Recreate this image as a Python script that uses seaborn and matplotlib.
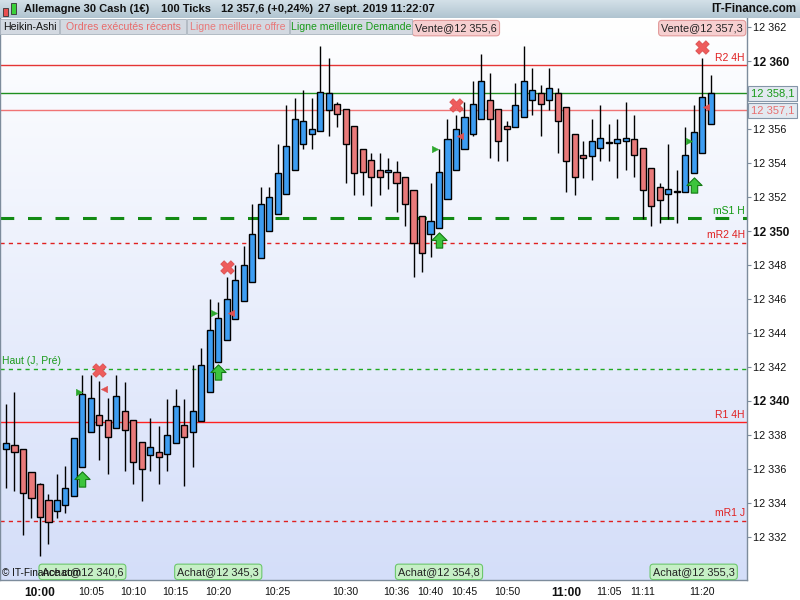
import numpy as np
import pandas as pd
import seaborn as sns
import matplotlib.pyplot as plt
import matplotlib.transforms as mtransforms

from matplotlib.colors import LinearSegmentedColormap
from matplotlib.patches import Rectangle
from matplotlib.path import Path

# ============================================================ DATA ============================================================

# Heikin-Ashi candles (100 ticks each)
opens  = [12337.2, 12337.4, 12337.2, 12335.8, 12335.1, 12334.2, 12333.5, 12333.9, 12334.4, 12336.1,
          12338.2, 12339.2, 12338.9, 12338.4, 12339.4, 12338.9, 12337.6, 12336.8, 12337.0, 12336.9,
          12337.5, 12338.6, 12338.2, 12338.8, 12340.5, 12342.3, 12343.6, 12344.8, 12345.9, 12347.0,
          12348.4, 12350.0, 12351.0, 12352.2, 12353.6, 12355.1, 12355.7, 12355.9, 12357.1, 12357.5,
          12357.2, 12356.2, 12354.8, 12354.2, 12353.6, 12353.5, 12353.5, 12353.2, 12352.4, 12350.9,
          12349.8, 12350.2, 12351.9, 12353.6, 12354.8, 12355.7, 12356.6, 12357.7, 12357.2, 12356.2,
          12356.1, 12356.7, 12357.7, 12358.1, 12357.7, 12358.1, 12357.3, 12355.7, 12354.5, 12354.4,
          12354.9, 12355.2, 12355.2, 12355.3, 12355.4, 12354.9, 12353.7, 12352.6, 12352.2, 12352.3,
          12352.3, 12353.4, 12354.6, 12356.3]
highs  = [12339.8, 12340.5, 12337.2, 12335.8, 12335.2, 12334.5, 12335.7, 12336.2, 12337.8, 12341.5,
          12341.5, 12341.2, 12340.2, 12341.5, 12341.1, 12338.9, 12337.6, 12339.0, 12338.5, 12340.1,
          12340.7, 12340.1, 12342.1, 12343.1, 12346.0, 12345.8, 12347.3, 12348.0, 12349.1, 12351.6,
          12352.6, 12352.6, 12355.1, 12357.4, 12357.8, 12358.3, 12357.8, 12360.9, 12360.2, 12357.6,
          12357.2, 12356.2, 12354.8, 12354.6, 12354.6, 12354.3, 12354.1, 12353.2, 12352.4, 12350.9,
          12352.8, 12354.8, 12356.6, 12356.8, 12357.6, 12358.8, 12360.4, 12359.3, 12357.2, 12356.5,
          12358.7, 12360.9, 12359.6, 12358.6, 12359.6, 12358.4, 12357.3, 12355.7, 12355.3, 12356.6,
          12357.4, 12356.3, 12356.6, 12357.6, 12356.8, 12354.9, 12353.7, 12352.8, 12355.1, 12353.6,
          12356.1, 12357.4, 12360.2, 12359.2]
lows   = [12334.9, 12334.7, 12332.1, 12333.1, 12330.9, 12331.6, 12333.1, 12333.4, 12334.4, 12336.1,
          12338.2, 12336.5, 12335.7, 12338.4, 12335.9, 12335.1, 12334.1, 12335.9, 12335.1, 12335.9,
          12337.5, 12335.0, 12336.1, 12338.8, 12340.5, 12342.3, 12343.6, 12344.8, 12345.9, 12347.0,
          12348.4, 12350.0, 12351.0, 12352.2, 12353.6, 12354.8, 12354.8, 12355.9, 12355.6, 12356.1,
          12352.8, 12352.1, 12352.1, 12351.5, 12352.1, 12352.5, 12351.1, 12350.3, 12347.3, 12347.6,
          12348.5, 12350.2, 12351.9, 12353.6, 12354.8, 12355.6, 12356.6, 12354.3, 12354.1, 12354.1,
          12356.1, 12356.7, 12356.8, 12355.6, 12357.1, 12354.6, 12352.3, 12352.1, 12353.1, 12353.0,
          12354.1, 12354.1, 12353.1, 12353.6, 12353.2, 12350.7, 12350.3, 12350.5, 12350.7, 12350.5,
          12352.3, 12353.4, 12354.6, 12356.3]
closes = [12337.5, 12337.0, 12334.6, 12334.3, 12333.2, 12332.9, 12334.2, 12334.9, 12337.8, 12340.4,
          12340.2, 12338.6, 12337.9, 12340.3, 12338.3, 12336.4, 12336.0, 12337.3, 12336.7, 12338.0,
          12339.7, 12337.9, 12339.4, 12342.1, 12344.2, 12344.9, 12346.0, 12347.1, 12348.0, 12349.8,
          12351.6, 12352.0, 12353.4, 12355.0, 12356.6, 12356.5, 12356.0, 12358.2, 12358.1, 12356.9,
          12355.1, 12353.4, 12353.5, 12353.2, 12353.2, 12353.6, 12352.8, 12351.6, 12349.3, 12348.7,
          12350.6, 12353.5, 12355.4, 12356.0, 12356.7, 12357.5, 12358.8, 12356.6, 12355.3, 12356.0,
          12357.4, 12358.8, 12358.3, 12357.5, 12358.4, 12356.5, 12354.1, 12353.2, 12354.3, 12355.3,
          12355.5, 12355.2, 12355.4, 12355.5, 12354.5, 12352.4, 12351.5, 12351.8, 12352.5, 12352.3,
          12354.5, 12355.8, 12357.9, 12358.1]

# Time axis (candle index -> label)
time_ticks  = [4, 10, 15, 20, 25, 32, 40, 46, 50, 54, 59, 66, 71, 75, 82]
time_labels = ["10:00", "10:05", "10:10", "10:15", "10:20", "10:25", "10:30", "10:36",
               "10:40", "10:45", "10:50", "11:00", "11:05", "11:11", "11:20"]
bold_times  = ["10:00", "11:00"]

price_ticks = list(range(12332, 12363, 2))
bold_prices = [12340, 12350, 12360]
hidden_prices = [12358]          # covered by the best bid box

# Trade markers
sell_idx    = [11, 26, 53, 82]
sell_price  = [12341.8, 12347.9, 12357.4, 12360.8]
buy_idx     = [9, 25, 51, 81]
buy_price   = [12335.4, 12341.7, 12349.5, 12352.7]
entry_idx   = [8.6, 24.5, 50.5, 80.5]
entry_price = [12340.5, 12345.2, 12354.8, 12355.3]
exit_idx    = [11.5, 26.5, 53.5, 82.4]
exit_price  = [12340.7, 12345.2, 12355.6, 12357.3]

buy_labels      = ["Achat@12 340,6", "Achat@12 345,3", "Achat@12 354,8", "Achat@12 355,3"]
sell_label_idx  = [53, 82]
sell_labels     = ["Vente@12 355,6", "Vente@12 357,3"]

# Horizontal levels
level_names  = ["R2 4H", "", "", "mS1 H", "mR2 4H", "Haut (J, Pré)", "R1 4H", "mR1 J"]
level_values = [12359.75, 12358.1, 12357.1, 12350.75, 12349.3, 12341.9, 12338.75, 12332.95]

best_bid = 12358.1
best_ask = 12357.1

# ======================================================== STYLE ========================================================

sns.set_style("white")
plt.rcParams['font.family'] = ['Liberation Sans', 'DejaVu Sans']

W, H = 800, 600
def fxy(px, py):
    return px / W, 1 - py / H

fig = plt.figure(figsize=(8, 6), dpi=100)
ax = fig.add_axes([0, 20 / H, 747 / W, 562 / H])

x_lim = (-6 / 8.49, 741 / 8.49)
y_lim = (12329.47, 12362.53)
ax.set_xlim(*x_lim)
ax.set_ylim(*y_lim)

# background gradient
bg = LinearSegmentedColormap.from_list("bg", ["#ffffff", "#d4def9"])
ax.imshow(np.linspace(0, 1, 256).reshape(-1, 1), cmap=bg, aspect="auto",
          extent=[x_lim[0], x_lim[1], y_lim[0], y_lim[1]], zorder=0)

# ======================================================== CANDLES ========================================================

candles = pd.DataFrame({"open": opens, "high": highs, "low": lows, "close": closes})
candles["x"] = np.arange(len(candles))
candles["bottom"] = candles[["open", "close"]].min(axis=1)
candles["height"] = (candles["close"] - candles["open"]).abs().clip(lower=0.04)
candles["color"] = np.where(candles["close"] >= candles["open"], "#3d9df2", "#e97a7a")

ax.vlines(candles["x"], candles["low"], candles["high"], color="black", lw=1, zorder=2)
ax.bar(candles["x"], candles["height"], bottom=candles["bottom"], width=0.72,
       color=candles["color"], edgecolor="black", linewidth=1, zorder=3)

# ======================================================== LEVELS ========================================================

thin_dash = (0, (3, 3))
ax.axhline(level_values[0], color="#e53535", lw=1, zorder=1.5)
ax.axhline(level_values[1], color="#1f8f1f", lw=1, zorder=1.5)
ax.axhline(level_values[2], color="#f07474", lw=1, zorder=1.5)
ax.axhline(level_values[3], color="#138a13", lw=2.2, ls=(0, (4.5, 4.5)), zorder=1.5)
ax.axhline(level_values[4], color="#e02020", lw=1, ls=thin_dash, zorder=1.5)
ax.axhline(level_values[5], color="#22aa22", lw=1, ls=thin_dash, zorder=1.5)
ax.axhline(level_values[6], color="#ff2020", lw=1, zorder=1.5)
ax.axhline(level_values[7], color="#e02020", lw=1, ls=thin_dash, zorder=1.5)

trans_right = mtransforms.blended_transform_factory(ax.transAxes, ax.transData)
label_colors = ["#e02020", None, None, "#119911", "#e02020", "#1a9a1a", "#e02020", "#e02020"]
for name, value, col in zip(level_names, level_values, label_colors):
    if not name:
        continue
    if name.startswith("Haut"):
        ax.text(0.003, value + 0.15, name, color=col, fontsize=7.5, ha="left", va="bottom",
                transform=trans_right, zorder=6)
    else:
        ax.text(0.997, value + 0.15, name, color=col, fontsize=7.5, ha="right", va="bottom",
                transform=trans_right, zorder=6)

# ======================================================== MARKERS ========================================================

arrow = Path([(0, 1), (1, 0), (0.42, 0), (0.42, -1), (-0.42, -1), (-0.42, 0), (-1, 0), (0, 1)],
             [Path.MOVETO] + [Path.LINETO] * 6 + [Path.CLOSEPOLY])

sns.scatterplot(x=sell_idx, y=sell_price, marker="X", s=95, color="#ee5c5c",
                edgecolor="#d84848", linewidth=0.5, ax=ax, zorder=7, legend=False)
sns.scatterplot(x=buy_idx, y=buy_price, marker=arrow, s=120, color="#3cc43c",
                edgecolor="#137a13", linewidth=0.8, ax=ax, zorder=7, legend=False)
sns.scatterplot(x=entry_idx, y=entry_price, marker=">", s=22, color="#2ea82e",
                edgecolor="#2ea82e", linewidth=0.3, ax=ax, zorder=7, legend=False)
sns.scatterplot(x=exit_idx, y=exit_price, marker="<", s=22, color="#e05050",
                edgecolor="#e05050", linewidth=0.3, ax=ax, zorder=7, legend=False)

# trade labels
trans_x = mtransforms.blended_transform_factory(ax.transData, ax.transAxes)
for idx, txt in zip(buy_idx, buy_labels):
    ax.text(idx, 0.0145, txt, fontsize=7.8, ha="center", va="center", color="#222222",
            transform=trans_x, zorder=8, clip_on=False,
            bbox=dict(boxstyle="round,pad=0.25,rounding_size=0.3", fc="#c6efc6", ec="#6cc76c", lw=0.8))
for idx, txt in zip(sell_label_idx, sell_labels):
    ax.text(idx, 0.982, txt, fontsize=7.8, ha="center", va="center", color="#222222",
            transform=trans_x, zorder=8, clip_on=False,
            bbox=dict(boxstyle="round,pad=0.25,rounding_size=0.3", fc="#f6cfd0", ec="#e29a9a", lw=0.8))

ax.text(0.003, 0.0125, "© IT-Finance.com", fontsize=7.2, ha="left", va="center", color="#111111",
        transform=ax.transAxes, zorder=9)

# best bid / ask boxes on the price axis
ax.text(1.005, best_bid, "12 358,1", fontsize=8, ha="left", va="center", color="#1a9a1a",
        transform=trans_right, zorder=9, clip_on=False,
        bbox=dict(boxstyle="square,pad=0.22", fc="#e3e9f0", ec="#8596a8", lw=0.8))
ax.text(1.005, best_ask, "12 357,1", fontsize=8, ha="left", va="center", color="#e87070",
        transform=trans_right, zorder=9, clip_on=False,
        bbox=dict(boxstyle="square,pad=0.22", fc="#e3e9f0", ec="#8596a8", lw=0.8))

# ======================================================== AXES ========================================================

ax.yaxis.tick_right()
ax.set_yticks(price_ticks)
ax.set_yticklabels(["" if p in hidden_prices else f"{p // 1000} {p % 1000:03d}" for p in price_ticks])
for lab, p in zip(ax.get_yticklabels(), price_ticks):
    if p in bold_prices:
        lab.set_fontweight("bold")
        lab.set_fontsize(8.6)
    else:
        lab.set_fontsize(7.8)
ax.tick_params(axis="y", direction="out", length=3, width=0.8, color="#7d8c9c", pad=1.5,
               right=True, left=False, labelcolor="#111111")

ax.set_xticks(time_ticks)
ax.set_xticklabels(time_labels)
for lab, t in zip(ax.get_xticklabels(), time_labels):
    if t in bold_times:
        lab.set_fontweight("bold")
        lab.set_fontsize(8.6)
    else:
        lab.set_fontsize(7.6)
ax.tick_params(axis="x", direction="out", length=3, width=0.8, color="#7d8c9c", pad=2,
               labelcolor="#111111")

ax.spines["top"].set_visible(False)
for side in ["right", "bottom", "left"]:
    ax.spines[side].set_color("#7d8c9c")
    ax.spines[side].set_linewidth(1)
ax.set_xlabel("")
ax.set_ylabel("")

# ======================================================== HEADER ========================================================

hdr = fig.add_axes([0, 1 - 18 / H, 1, 18 / H])
hdr.imshow(np.linspace(0, 1, 32).reshape(-1, 1), aspect="auto", extent=[0, 1, 0, 1],
           cmap=LinearSegmentedColormap.from_list("hdr", ["#d3e0e8", "#b0c4d0"]))
hdr.set_xlim(0, 1)
hdr.set_ylim(0, 1)
hdr.axis("off")

# small candle icon
fig.patches.append(Rectangle(fxy(3, 16), 5 / W, 8 / H, transform=fig.transFigure,
                             fc="#e85050", ec="#333333", lw=0.6, zorder=5))
fig.patches.append(Rectangle(fxy(11, 14), 5 / W, 11 / H, transform=fig.transFigure,
                             fc="#3ad13a", ec="#333333", lw=0.6, zorder=5))

title_parts = [(24, "Allemagne 30 Cash (1€)"), (161, "100 Ticks"),
               (221, "12 357,6 (+0,24%)"), (318, "27 sept. 2019 11:22:07")]
for px, txt in title_parts:
    fig.text(*fxy(px, 9.5), txt, fontsize=8, fontweight="bold", ha="left", va="center", color="#111111")
fig.text(*fxy(796, 9.5), "IT-Finance.com", fontsize=8.4, fontweight="bold", ha="right", va="center",
         color="#111111")

# indicator tabs
tabs = [(0, 59, "Heikin-Ashi", "#111111"),
        (60, 186, "Ordres exécutés récents", "#e86a6a"),
        (187, 289, "Ligne meilleure offre", "#e87a7a"),
        (290, 412, "Ligne meilleure Demande", "#1a9a1a")]
for x0, x1, txt, col in tabs:
    fig.patches.append(Rectangle(fxy(x0, 34), (x1 - x0) / W, 15 / H, transform=fig.transFigure,
                                 fc="#d3d9e1", ec="#aab3bd", lw=0.6, zorder=5))
    fig.text(*fxy((x0 + x1) / 2, 26.5), txt, fontsize=7.6, ha="center", va="center", color=col, zorder=6)

fig.savefig("out.png", dpi=100)
